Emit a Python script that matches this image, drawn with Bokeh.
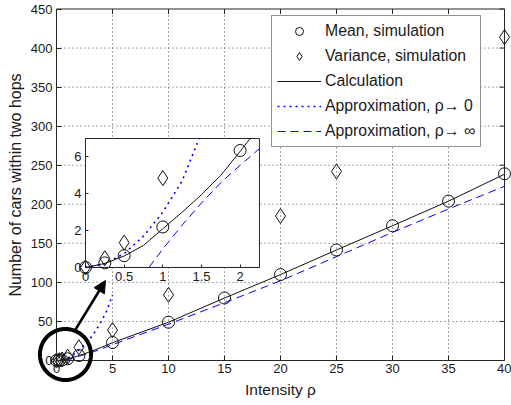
import numpy as np
from bokeh.plotting import figure
from bokeh.models import (Range1d, FixedTicker, LinearAxis, Legend, LegendItem,
                          Arrow, NormalHead, PolyAnnotation)
from bokeh.embed import file_html
from bokeh.resources import INLINE

# ---------------- data ----------------
rho_sim = [0, 0.25, 0.5, 1, 2, 5, 10, 15, 20, 25, 30, 35, 40]
mean_sim = [0, 0.25, 0.64, 2.2, 6.35, 23, 49, 80, 110, 141.5, 172.5, 204, 239]
var_sim = [0, 0.5, 1.35, 4.85, 17, 39, 84, 132, 185, 242, 300, 357, 414]

rho_calc = [0, 0.25, 0.5, 0.75, 1, 1.25, 1.5, 1.75, 2, 2.13, 2.5, 3, 4, 5,
            10, 15, 20, 25, 30, 35, 40]
calc = [0, 0.22, 0.62, 1.2, 2.1, 3.0, 3.95, 5.0, 6.3, 7.0, 8.7, 11.2, 16.8, 22.8,
        49, 80, 110, 141.5, 172.5, 204, 238.5]

rho_a0 = [0, 0.25, 0.5, 0.75, 1, 1.25, 1.47, 2, 2.5, 3, 3.5, 4, 4.5, 5]
approx0 = [0, 0.2, 0.75, 1.7, 3.0, 4.7, 7.0, 13.5, 20, 28, 38, 50, 64, 84]

rho_ainf = [0.82, 1, 1.25, 1.5, 1.75, 2, 2.25, 2.5, 3, 4, 5, 10, 15, 20, 25, 30, 35, 40]
approxinf = [0, 1.0, 2.3, 3.5, 4.6, 5.55, 6.45, 7.4, 9.6, 14.8, 20.3, 46.5, 74, 102,
             133, 164, 194, 223]

x_ticks = [0, 5, 10, 15, 20, 25, 30, 35, 40]
y_ticks = [0, 50, 100, 150, 200, 250, 300, 350, 400, 450]
inset_x_ticks = [0, 0.5, 1, 1.5, 2]
inset_x_labels = ["0", "0.5", "1", "1.5", "2"]
inset_y_ticks = [0, 2, 4, 6]
inset_y_labels = ["0", "2", "4", "6"]

labels = ["Mean, simulation", "Variance, simulation", "Calculation",
          "Approximation, \u03c1\u2192 0", "Approximation, \u03c1\u2192 \u221e"]

# ---------------- layout constants ----------------
W, H = 511, 405
FRAME_L, FRAME_R, FRAME_T, FRAME_B = 56, 504, 8.5, 360     # pixel box of the axes
X_MAX, Y_MAX = 40, 450
INSET_XMAX, INSET_YMAX = 2.25, 7
INSET_L, INSET_R, INSET_B, INSET_T = 2.59, 18.12, 119.1, 284.2   # in main data units
ELL_CX, ELL_CY, ELL_RX, ELL_RY = 0.8, 7.7, 2.28, 32.6
ARROW_X0, ARROW_Y0, ARROW_X1, ARROW_Y1 = 1.7, 39.7, 4.375, 102.4
LEGEND_LEFT, LEGEND_BOTTOM = 271, 258

FONT = "Liberation Sans"
TXT = "#1a1a1a"
AX = "#262626"
BLUE = "#0000ff"
LINE = "#111111"

kx = (FRAME_R - FRAME_L) / X_MAX
ky = (FRAME_B - FRAME_T) / Y_MAX
x_range = Range1d(-FRAME_L / kx, X_MAX + (W - FRAME_R) / kx)
y_range = Range1d(-(H - FRAME_B) / ky, Y_MAX + FRAME_T / ky)

p = figure(width=W, height=H, x_range=x_range, y_range=y_range, title=None,
           output_backend="svg", toolbar_location=None, min_border=0)
p.background_fill_color = "white"
p.border_fill_color = "white"
p.outline_line_color = None
p.grid.visible = False


def style_axis(ax, tick_in=5, standoff=4):
    ax.major_tick_in = tick_in
    ax.major_tick_out = 0
    ax.minor_tick_in = 0
    ax.minor_tick_out = 0
    ax.axis_line_color = AX
    ax.major_tick_line_color = AX
    ax.major_label_text_font = FONT
    ax.major_label_text_font_size = "13px"
    ax.major_label_text_color = TXT
    ax.major_label_standoff = standoff


xa, ya = p.xaxis[0], p.yaxis[0]
xa.fixed_location = 0
ya.fixed_location = 0
xa.bounds = (0, X_MAX)
ya.bounds = (0, Y_MAX)
xa.ticker = FixedTicker(ticks=x_ticks)
ya.ticker = FixedTicker(ticks=y_ticks)
style_axis(xa, standoff=3)
style_axis(ya, standoff=4)
xa.axis_label = "Intensity \u03c1"
ya.axis_label = "Number of cars within two hops"
for ax, fs, so in ((xa, "15.5px", 5), (ya, "16px", 4)):
    ax.axis_label_text_font = FONT
    ax.axis_label_text_font_size = fs
    ax.axis_label_text_font_style = "normal"
    ax.axis_label_text_color = TXT
    ax.axis_label_standoff = so

# dotted grid from the tick lists
gx = x_ticks[1:-1]
gy = y_ticks[1:-1]
p.segment(x0=gx, y0=[0] * len(gx), x1=gx, y1=[Y_MAX] * len(gx),
          line_color="#505050", line_width=1, line_dash="1 3")
p.segment(x0=[0] * len(gy), y0=gy, x1=[X_MAX] * len(gy), y1=gy,
          line_color="#505050", line_width=1, line_dash="1 3")
# box + inward ticks on top and right
p.quad(left=[0], right=[X_MAX], bottom=[0], top=[Y_MAX], fill_alpha=0,
       line_color=AX, line_width=1)
p.ray(x=x_ticks, y=[Y_MAX] * len(x_ticks), length=5, length_units="screen",
      angle=-np.pi / 2, line_color=AX, line_width=1)
p.ray(x=[X_MAX] * len(y_ticks), y=y_ticks, length=5, length_units="screen",
      angle=np.pi, line_color=AX, line_width=1)

r_ainf = p.line(rho_ainf, approxinf, line_color=BLUE, line_width=1, line_dash="8 5")
r_a0 = p.line(rho_a0, approx0, line_color=BLUE, line_width=1.6, line_dash="2 4")
r_calc = p.line(rho_calc, calc, line_color=LINE, line_width=1)
r_mean = p.scatter(rho_sim, mean_sim, marker="circle", size=12, fill_alpha=0,
                   line_color=LINE, line_width=1)
r_var = p.scatter(rho_sim, var_sim, marker="diamond", size=15, fill_alpha=0,
                  line_color=LINE, line_width=1)

# ---------------- inset through its own ranges ----------------
sx = INSET_XMAX / (INSET_R - INSET_L)
sy = INSET_YMAX / (INSET_T - INSET_B)
p.extra_x_ranges = {"ix": Range1d((x_range.start - INSET_L) * sx,
                                  (x_range.end - INSET_L) * sx)}
p.extra_y_ranges = {"iy": Range1d((y_range.start - INSET_B) * sy,
                                  (y_range.end - INSET_B) * sy)}
IN = dict(x_range_name="ix", y_range_name="iy")


def inside(xs, ys):
    pts = [(a, b) for a, b in zip(xs, ys)
           if 0 <= a <= INSET_XMAX + 1e-9 and 0 <= b <= INSET_YMAX + 1e-9]
    return [a for a, _ in pts], [b for _, b in pts]


p.quad(left=[0], right=[INSET_XMAX], bottom=[0], top=[INSET_YMAX],
       fill_color="white", line_color=AX, line_width=1, **IN)
ix, iy = inside(rho_ainf, approxinf)
p.line(ix, iy, line_color=BLUE, line_width=1, line_dash="8 5", **IN)
ix, iy = inside(rho_a0, approx0)
p.line(ix, iy, line_color=BLUE, line_width=1.6, line_dash="2 4", **IN)
ix, iy = inside(rho_calc, calc)
p.line(ix, iy, line_color=LINE, line_width=1, **IN)
ix, iy = inside(rho_sim, mean_sim)
p.scatter(ix, iy, marker="circle", size=12, fill_alpha=0, line_color=LINE, line_width=1, **IN)
ix, iy = inside(rho_sim, var_sim)
p.scatter(ix, iy, marker="diamond", size=15, fill_alpha=0, line_color=LINE, line_width=1, **IN)

ixa = LinearAxis(fixed_location=0, bounds=(0, INSET_XMAX),
                 ticker=FixedTicker(ticks=inset_x_ticks), **IN)
ixa.major_label_overrides = dict(zip(inset_x_ticks, inset_x_labels))
style_axis(ixa, tick_in=3, standoff=5)
iya = LinearAxis(fixed_location=0, bounds=(0, INSET_YMAX),
                 ticker=FixedTicker(ticks=inset_y_ticks), **IN)
iya.major_label_overrides = dict(zip(inset_y_ticks, inset_y_labels))
style_axis(iya, tick_in=3, standoff=4)
p.add_layout(ixa, "below")
p.add_layout(iya, "left")

# ---------------- legend ----------------
legend = Legend(items=[
    LegendItem(label=labels[0], renderers=[r_mean]),
    LegendItem(label=labels[1], renderers=[r_var]),
    LegendItem(label=labels[2], renderers=[r_calc]),
    LegendItem(label=labels[3], renderers=[r_a0]),
    LegendItem(label=labels[4], renderers=[r_ainf]),
], location=(LEGEND_LEFT, LEGEND_BOTTOM))
legend.margin = 0
legend.padding = 5
legend.spacing = 5
legend.glyph_width = 44
legend.glyph_height = 20
legend.label_height = 20
legend.label_standoff = 4
legend.label_text_font = FONT
legend.label_text_font_size = "15.8px"
legend.label_text_color = TXT
legend.border_line_color = AX
legend.border_line_width = 1
legend.background_fill_color = "white"
legend.background_fill_alpha = 1
p.add_layout(legend)

# ---------------- annotations ----------------
t = np.linspace(0, 2 * np.pi, 97)
p.add_layout(PolyAnnotation(xs=list(ELL_CX + ELL_RX * np.cos(t)),
                            ys=list(ELL_CY + ELL_RY * np.sin(t)),
                            line_color="black", line_alpha=1, line_width=4,
                            fill_alpha=0))
p.add_layout(Arrow(x_start=ARROW_X0, y_start=ARROW_Y0, x_end=ARROW_X1, y_end=ARROW_Y1,
                   line_color="black", line_width=2.5,
                   end=NormalHead(size=12, line_color="black", fill_color="black")))

open("out.html", "w").write(file_html(p, INLINE))
